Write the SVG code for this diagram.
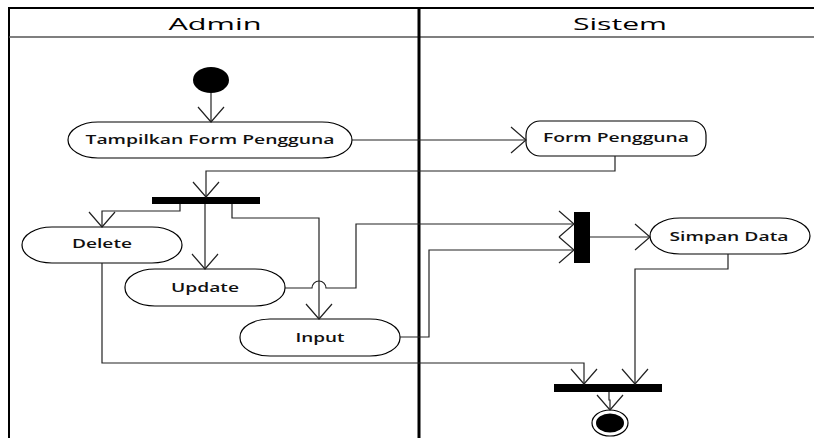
<svg xmlns="http://www.w3.org/2000/svg" width="814" height="438" viewBox="0 0 814 438">
<style>
.lane{fill:none;stroke:#000;stroke-width:2}
.hdr{font-family:"Open Sans","Liberation Sans",sans-serif;font-size:17px;fill:#000;text-anchor:middle}
.act{fill:#fff;stroke:#000;stroke-width:1.2}
.lbl{font-family:"Open Sans","Liberation Sans",sans-serif;font-size:12px;font-weight:600;fill:#111;text-anchor:middle}
.bar{fill:#000}
.con{fill:none;stroke:#222;stroke-width:1.2}
</style>
<defs>
<marker id="open" viewBox="0 0 20 30" refX="16" refY="15" markerWidth="20" markerHeight="30" markerUnits="userSpaceOnUse" orient="auto">
<path d="M1,2 L16,15 L1,28" fill="none" stroke="#222" stroke-width="1.2"/>
</marker>
</defs>
<g id="lanes">
<rect x="9" y="8" width="820" height="440" class="lane"/>
<line x1="9" y1="37" x2="814" y2="37" stroke="#555" stroke-width="1.5"/>
<line x1="419" y1="8" x2="419" y2="438" stroke="#000" stroke-width="3"/>
<text x="215" y="30" class="hdr" textLength="93" lengthAdjust="spacingAndGlyphs">Admin</text>
<text x="620" y="30" class="hdr" textLength="94" lengthAdjust="spacingAndGlyphs">Sistem</text>
</g>
<g id="start"><ellipse cx="211" cy="80" rx="18" ry="13" fill="#000"/></g>
<g id="tampilkan"><rect x="68" y="122" width="284" height="36" rx="30" ry="18" class="act"/><text x="210" y="144" class="lbl" textLength="249" lengthAdjust="spacingAndGlyphs">Tampilkan Form Pengguna</text></g>
<g id="formpengguna"><rect x="526" y="121" width="180" height="35" rx="14" ry="14" class="act"/><text x="616" y="142" class="lbl" textLength="146" lengthAdjust="spacingAndGlyphs">Form Pengguna</text></g>
<g id="fork1"><rect x="152" y="197" width="108" height="7" class="bar"/></g>
<g id="delete"><rect x="22" y="227" width="160" height="36" rx="30" ry="18" class="act"/><text x="102" y="248" class="lbl" textLength="60" lengthAdjust="spacingAndGlyphs">Delete</text></g>
<g id="update"><rect x="125" y="269" width="160" height="37" rx="30" ry="18" class="act"/><text x="205" y="292" class="lbl" textLength="68" lengthAdjust="spacingAndGlyphs">Update</text></g>
<g id="input"><rect x="240" y="319" width="160" height="37" rx="30" ry="18" class="act"/><text x="320" y="342" class="lbl" textLength="49" lengthAdjust="spacingAndGlyphs">Input</text></g>
<g id="join1"><rect x="574" y="212" width="16" height="51" class="bar"/></g>
<g id="simpan"><rect x="650" y="218" width="160" height="36" rx="30" ry="18" class="act"/><text x="729" y="241" class="lbl" textLength="119" lengthAdjust="spacingAndGlyphs">Simpan Data</text></g>
<g id="join2"><rect x="554" y="384" width="108" height="8" class="bar"/></g>
<g id="end"><ellipse cx="610" cy="423" rx="18" ry="13" fill="#fff" stroke="#000" stroke-width="1.2"/><ellipse cx="610" cy="423" rx="14" ry="9.5" fill="#000"/></g>
<g id="connectors">
<path d="M211,93 V122" class="con" marker-end="url(#open)"/>
<path d="M352,140 H526" class="con" marker-end="url(#open)"/>
<path d="M615,156 V171 H206 V197" class="con" marker-end="url(#open)"/>
<path d="M180,204 V211 H102 V227" class="con" marker-end="url(#open)"/>
<path d="M205,204 V269" class="con" marker-end="url(#open)"/>
<path d="M232,204 V218 H319 V319" class="con" marker-end="url(#open)"/>
<path d="M285,288 H312 A7,7 0 0 1 326,288 H356 V224 H574" class="con" marker-end="url(#open)"/>
<path d="M400,337 H429 V250 H574" class="con" marker-end="url(#open)"/>
<path d="M590,237 H650" class="con" marker-end="url(#open)"/>
<path d="M728,254 V269 H635 V384" class="con" marker-end="url(#open)"/>
<path d="M102,263 V363 H584 V384" class="con" marker-end="url(#open)"/>
<path d="M609,392 V400 H610 V410" class="con" marker-end="url(#open)"/>
</g>
</svg>
